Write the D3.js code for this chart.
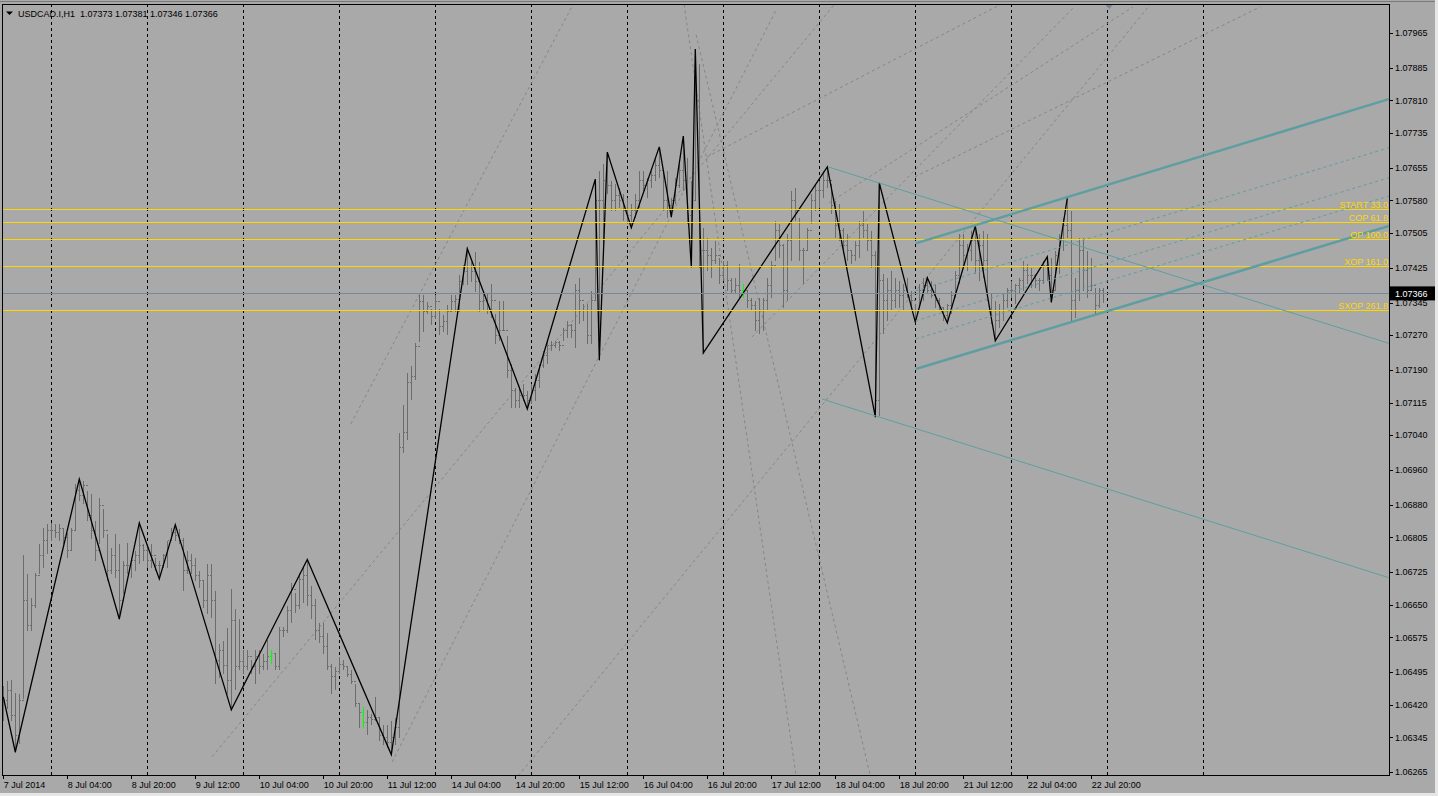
<!DOCTYPE html>
<html>
<head>
<meta charset="utf-8">
<script src="https://cdnjs.cloudflare.com/ajax/libs/d3/7.8.5/d3.min.js"></script>
<style>
  body { margin: 0; background: #a9a9a9; overflow: hidden; }
  text { font-family: "Liberation Sans", Arial, sans-serif; font-size: 9px; }
</style>
</head>
<body>
<svg width="1438" height="796"></svg>
<script>
const symbolName = 'USDCAD.I,H1'

// H1 bars, 7 Jul 2014 12:00 .. 22 Jul 2014 23:00 (open of a bar = close of the previous one)
const highs = [
  1.06466,1.06477,1.06479,1.06449,1.06447,1.06767,1.06723,1.06668,1.06725,1.06792,
  1.06829,1.06838,1.06840,1.06838,1.06838,1.06829,1.06817,1.06829,1.06930,1.06939,
  1.06937,1.06914,1.06907,1.06845,1.06898,1.06873,1.06815,1.06783,1.06815,1.06792,
  1.06753,1.06794,1.06760,1.06776,1.06838,1.06792,1.06792,1.06792,1.06760,1.06753,
  1.06769,1.06799,1.06829,1.06834,1.06827,1.06806,1.06776,1.06769,1.06760,1.06730,
  1.06707,1.06746,1.06746,1.06684,1.06562,1.06569,1.06599,1.06689,1.06642,1.06619,
  1.06548,1.06548,1.06525,1.06548,1.06548,1.06539,1.06572,1.06548,1.06539,1.06602,
  1.06602,1.06649,1.06703,1.06679,1.06726,1.06742,1.06754,1.06696,1.06665,1.06609,
  1.06609,1.06586,1.06516,1.06509,1.06532,1.06525,1.06509,1.06502,1.06469,1.06423,
  1.06416,1.06409,1.06400,1.06439,1.06392,1.06376,1.06376,1.06385,1.06392,1.07046,
  1.07111,1.07185,1.07202,1.07255,1.07365,1.07365,1.07349,1.07333,1.07365,1.07333,
  1.07319,1.07342,1.07365,1.07365,1.07411,1.07434,1.07469,1.07441,1.07464,1.07441,
  1.07374,1.07367,1.07390,1.07321,1.07351,1.07351,1.07270,1.07206,1.07151,1.07151,
  1.07160,1.07144,1.07160,1.07183,1.07206,1.07236,1.07259,1.07259,1.07259,1.07259,
  1.07289,1.07305,1.07298,1.07390,1.07404,1.07344,1.07344,1.07374,1.07629,1.07650,
  1.07666,1.07691,1.07627,1.07620,1.07611,1.07597,1.07588,1.07574,1.07597,1.07650,
  1.07650,1.07634,1.07650,1.07680,1.07703,1.07650,1.07650,1.07588,1.07634,1.07666,
  1.07728,1.07680,1.07627,1.07928,1.07896,1.07519,1.07496,1.07473,1.07489,1.07450,
  1.07443,1.07443,1.07404,1.07404,1.07436,1.07390,1.07374,1.07358,1.07351,1.07358,
  1.07358,1.07404,1.07443,1.07535,1.07528,1.07482,1.07505,1.07604,1.07611,1.07542,
  1.07473,1.07519,1.07597,1.07620,1.07627,1.07650,1.07657,1.07620,1.07581,1.07574,
  1.07519,1.07505,1.07466,1.07489,1.07535,1.07558,1.07528,1.07512,1.07466,1.07620,
  1.07413,1.07404,1.07420,1.07404,1.07397,1.07390,1.07404,1.07374,1.07344,1.07390,
  1.07404,1.07402,1.07397,1.07390,1.07358,1.07335,1.07344,1.07374,1.07420,1.07505,
  1.07505,1.07482,1.07512,1.07521,1.07505,1.07512,1.07505,1.07367,1.07351,1.07344,
  1.07367,1.07381,1.07397,1.07390,1.07404,1.07443,1.07436,1.07427,1.07413,1.07404,
  1.07443,1.07450,1.07450,1.07466,1.07505,1.07542,1.07586,1.07558,1.07404,1.07496,
  1.07496,1.07466,1.07450,1.07381,1.07381,1.07381
]
const lows = [
  1.06385,1.06413,1.06385,1.06311,1.06332,1.06436,1.06592,1.06592,1.06645,1.06723,
  1.06737,1.06769,1.06799,1.06806,1.06799,1.06792,1.06760,1.06776,1.06822,1.06891,
  1.06884,1.06845,1.06804,1.06753,1.06792,1.06806,1.06707,1.06723,1.06714,1.06617,
  1.06677,1.06723,1.06714,1.06730,1.06746,1.06753,1.06737,1.06737,1.06730,1.06709,
  1.06737,1.06737,1.06799,1.06799,1.06792,1.06684,1.06723,1.06723,1.06707,1.06691,
  1.06645,1.06631,1.06622,1.06470,1.06484,1.06493,1.06447,1.06408,1.06455,1.06502,
  1.06493,1.06502,1.06493,1.06469,1.06493,1.06502,1.06502,1.06516,1.06502,1.06502,
  1.06579,1.06586,1.06610,1.06633,1.06642,1.06656,1.06649,1.06619,1.06572,1.06563,
  1.06539,1.06502,1.06446,1.06455,1.06493,1.06502,1.06486,1.06469,1.06416,1.06369,
  1.06369,1.06353,1.06376,1.06385,1.06339,1.06329,1.06322,1.06305,1.06329,1.06346,
  1.07000,1.07030,1.07123,1.07169,1.07256,1.07279,1.07321,1.07296,1.07310,1.07273,
  1.07280,1.07273,1.07326,1.07326,1.07326,1.07388,1.07388,1.07395,1.07372,1.07326,
  1.07328,1.07321,1.07312,1.07252,1.07259,1.07282,1.07174,1.07105,1.07105,1.07105,
  1.07121,1.07100,1.07114,1.07121,1.07151,1.07197,1.07206,1.07236,1.07243,1.07236,
  1.07259,1.07266,1.07266,1.07243,1.07298,1.07305,1.07252,1.07252,1.07351,1.07213,
  1.07482,1.07597,1.07558,1.07558,1.07565,1.07535,1.07528,1.07517,1.07542,1.07565,
  1.07604,1.07588,1.07611,1.07627,1.07634,1.07558,1.07542,1.07542,1.07574,1.07611,
  1.07604,1.07528,1.07427,1.07581,1.07427,1.07229,1.07420,1.07404,1.07436,1.07390,
  1.07397,1.07374,1.07367,1.07367,1.07358,1.07358,1.07335,1.07328,1.07282,1.07275,
  1.07282,1.07328,1.07358,1.07443,1.07450,1.07335,1.07351,1.07443,1.07535,1.07443,
  1.07390,1.07466,1.07528,1.07558,1.07565,1.07588,1.07611,1.07551,1.07496,1.07489,
  1.07459,1.07443,1.07436,1.07443,1.07450,1.07496,1.07466,1.07427,1.07082,1.07087,
  1.07275,1.07305,1.07328,1.07335,1.07335,1.07328,1.07358,1.07335,1.07300,1.07335,
  1.07351,1.07367,1.07358,1.07335,1.07328,1.07305,1.07298,1.07321,1.07358,1.07390,
  1.07427,1.07420,1.07443,1.07413,1.07397,1.07404,1.07351,1.07298,1.07257,1.07289,
  1.07305,1.07335,1.07358,1.07344,1.07367,1.07374,1.07390,1.07381,1.07381,1.07374,
  1.07390,1.07397,1.07346,1.07374,1.07413,1.07466,1.07496,1.07305,1.07312,1.07351,
  1.07374,1.07358,1.07374,1.07321,1.07335,1.07346
]
const closes = [
  1.06431,1.06454,1.06397,1.06351,1.06431,1.06661,1.06604,1.06650,1.06719,1.06765,
  1.06799,1.06822,1.06822,1.06817,1.06827,1.06806,1.06776,1.06822,1.06914,1.06903,
  1.06926,1.06857,1.06822,1.06776,1.06880,1.06822,1.06730,1.06765,1.06730,1.06661,
  1.06742,1.06742,1.06753,1.06765,1.06788,1.06776,1.06753,1.06765,1.06742,1.06742,
  1.06765,1.06799,1.06817,1.06811,1.06799,1.06730,1.06753,1.06742,1.06719,1.06707,
  1.06661,1.06719,1.06661,1.06523,1.06546,1.06512,1.06477,1.06615,1.06509,1.06521,
  1.06509,1.06532,1.06509,1.06532,1.06509,1.06521,1.06532,1.06539,1.06509,1.06591,
  1.06591,1.06638,1.06685,1.06649,1.06708,1.06719,1.06672,1.06649,1.06591,1.06579,
  1.06555,1.06509,1.06485,1.06497,1.06514,1.06509,1.06491,1.06474,1.06423,1.06404,
  1.06381,1.06392,1.06387,1.06392,1.06351,1.06346,1.06335,1.06346,1.06369,1.07012,
  1.07047,1.07162,1.07175,1.07244,1.07349,1.07326,1.07338,1.07315,1.07349,1.07292,
  1.07303,1.07326,1.07349,1.07354,1.07395,1.07418,1.07430,1.07418,1.07395,1.07349,
  1.07351,1.07328,1.07351,1.07271,1.07282,1.07282,1.07190,1.07144,1.07121,1.07133,
  1.07133,1.07121,1.07144,1.07167,1.07202,1.07225,1.07248,1.07248,1.07254,1.07248,
  1.07282,1.07294,1.07282,1.07374,1.07351,1.07328,1.07271,1.07351,1.07581,1.07581,
  1.07627,1.07616,1.07581,1.07593,1.07581,1.07558,1.07547,1.07558,1.07581,1.07627,
  1.07616,1.07627,1.07639,1.07662,1.07650,1.07581,1.07570,1.07581,1.07616,1.07650,
  1.07627,1.07547,1.07581,1.07811,1.07466,1.07466,1.07455,1.07443,1.07455,1.07409,
  1.07432,1.07397,1.07374,1.07386,1.07374,1.07374,1.07351,1.07340,1.07305,1.07328,
  1.07351,1.07386,1.07432,1.07512,1.07478,1.07374,1.07489,1.07581,1.07558,1.07466,
  1.07466,1.07512,1.07581,1.07604,1.07604,1.07627,1.07627,1.07570,1.07524,1.07512,
  1.07478,1.07466,1.07455,1.07478,1.07524,1.07512,1.07489,1.07455,1.07121,1.07397,
  1.07351,1.07374,1.07351,1.07374,1.07363,1.07374,1.07363,1.07351,1.07328,1.07374,
  1.07386,1.07374,1.07363,1.07351,1.07335,1.07317,1.07340,1.07363,1.07409,1.07478,
  1.07455,1.07466,1.07489,1.07443,1.07478,1.07443,1.07367,1.07328,1.07305,1.07328,
  1.07351,1.07374,1.07374,1.07386,1.07397,1.07420,1.07409,1.07409,1.07397,1.07397,
  1.07432,1.07409,1.07374,1.07455,1.07489,1.07524,1.07512,1.07351,1.07374,1.07466,
  1.07420,1.07374,1.07386,1.07340,1.07373,1.07366
]
const firstOpen = 1.06440
const greenBars = [67, 90, 185]

// zigzag pivots (bar index, price)
const zigzagBars = [0,3,19,29,34,39,43,57,76,97,116,131,148,149,151,157,164,167,170,172,173,175,206,218,219,228,231,236,243,248,261,262,266]
const zigzagPrices = [1.06438,1.06311,1.06939,1.06617,1.06838,1.06709,1.06834,1.06408,1.06754,1.06305,1.07469,1.07100,1.07629,1.07213,1.07691,1.07517,1.07703,1.07542,1.07728,1.07427,1.07928,1.07229,1.07657,1.07082,1.07620,1.07300,1.07402,1.07298,1.07521,1.07257,1.07450,1.07346,1.07586]

const levelNames = ['START 33.0', 'COP 61.8', 'OP 100.0', 'XOP 161.0', 'SXOP 261.8']
const levelPrices = [1.07560, 1.07530, 1.07491, 1.07429, 1.07327]

// objects as [bar1, price1, bar2, price2]
const channelMain = [[228.1, 1.07481, 346.4, 1.07813], [228.1, 1.07192, 346.4, 1.07521]]
const channelInner = [[228.1, 1.07372, 346.4, 1.07701], [228.1, 1.07303, 346.4, 1.07632], [228.1, 1.07261, 346.4, 1.07590]]
const trendLines = [[206.2, 1.07657, 346.4, 1.07251], [204.7, 1.07123, 346.4, 1.06712]]
const fanLines = [
  [52.2, 1.06300, 208.7, 1.08041],
  [86.9, 1.07066, 142.4, 1.08030],
  [97.2, 1.06288, 193.2, 1.08018],
  [128.7, 1.06256, 286.7, 1.08030],
  [170.2, 1.08030, 198.2, 1.06256],
  [173.2, 1.07961, 216.7, 1.06258],
  [175.9, 1.07680, 249.2, 1.08030],
  [187.2, 1.07266, 267.7, 1.08025],
  [206.4, 1.07574, 282.4, 1.08025],
  [227.9, 1.07634, 314.2, 1.08025]
]

const priceTicks = ['1.07965','1.07885','1.07810','1.07735','1.07655','1.07580','1.07505','1.07425','1.07345','1.07270','1.07190','1.07115','1.07040','1.06960','1.06880','1.06805','1.06725','1.06650','1.06575','1.06495','1.06420','1.06345','1.06265']
const timeLabels = ['7 Jul 2014','8 Jul 04:00','8 Jul 20:00','9 Jul 12:00','10 Jul 04:00','10 Jul 20:00','11 Jul 12:00','14 Jul 04:00','14 Jul 20:00','15 Jul 12:00','16 Jul 04:00','16 Jul 20:00','17 Jul 12:00','18 Jul 04:00','18 Jul 20:00','21 Jul 12:00','22 Jul 04:00','22 Jul 20:00']
const timeLabelBars = timeLabels.map((d, k) => k * 16)
const daySeparatorBars = [12, 36, 60, 84, 108, 132, 156, 180, 204, 228, 252, 276, 300]

const plot = {left: 2, top: 4, right: 1389, bottom: 775}
const svg = d3.select('svg')

const x = d3.scaleLinear().domain([0, 100]).range([3.3, 403.3])
const y = d3.scaleLinear().domain([1.06265, 1.07965]).range([772, 33])
const px = (i) => Math.round(x(i)) + 0.5
const py = (p) => Math.round(y(p)) + 0.5

svg.append('rect').attr('width', 1438).attr('height', 796).attr('fill', '#a9a9a9')

svg.append('defs').append('clipPath').attr('id', 'clip')
  .append('rect')
  .attr('x', plot.left).attr('y', plot.top)
  .attr('width', plot.right - plot.left).attr('height', plot.bottom - plot.top)

const chart = svg.append('g').attr('clip-path', 'url(#clip)')

// day separators
chart.append('g').selectAll('line')
  .data(daySeparatorBars)
  .join('line')
  .attr('x1', d => px(d)).attr('x2', d => px(d))
  .attr('y1', plot.top).attr('y2', plot.bottom)
  .attr('stroke', '#000')
  .attr('stroke-dasharray', '3,3')

const segment = (g, data, color, width, dash) => {
  g.selectAll(null)
    .data(data)
    .join('line')
    .attr('x1', d => x(d[0])).attr('y1', d => y(d[1]))
    .attr('x2', d => x(d[2])).attr('y2', d => y(d[3]))
    .attr('stroke', color)
    .attr('stroke-width', width)
    .attr('stroke-dasharray', dash)
}

segment(chart.append('g'), fanLines, '#868686', 1, '3,3')

// price bars
const bars = highs.map((h, i) => ({
  i, h, l: lows[i], o: i === 0 ? firstOpen : closes[i - 1], c: closes[i]
}))

chart.append('g').selectAll('path')
  .data(bars)
  .join('path')
  .attr('d', d => {
    const xi = px(d.i)
    return `M${xi},${py(d.h)}V${py(d.l) + 0.5}M${xi - 1.5},${py(d.o)}H${xi}M${xi},${py(d.c)}H${xi + 1.5}`
  })
  .attr('fill', 'none')
  .attr('stroke', d => greenBars.includes(d.i) ? '#00ff00' : '#6c6c6c')
  .attr('stroke-width', 1)
  .attr('shape-rendering', 'crispEdges')

// zigzag
const zigzag = d3.line().x(d => x(d[0])).y(d => y(d[1]))
chart.append('path')
  .datum(zigzagBars.map((b, k) => [b, zigzagPrices[k]]))
  .attr('d', zigzag)
  .attr('fill', 'none')
  .attr('stroke', '#000')
  .attr('stroke-width', 1.3)

// levels
chart.append('g').selectAll('line')
  .data(levelPrices)
  .join('line')
  .attr('x1', plot.left).attr('x2', plot.right)
  .attr('y1', d => py(d)).attr('y2', d => py(d))
  .attr('stroke', '#ffd700')

segment(chart.append('g'), trendLines, '#5f9ea0', 1, null)
segment(chart.append('g'), channelInner, '#5f9ea0', 1, '3,3')
segment(chart.append('g'), channelMain, '#5f9ea0', 2.5, null)

chart.append('g').selectAll('text')
  .data(levelNames)
  .join('text')
  .attr('x', plot.right - 1)
  .attr('y', (d, k) => y(levelPrices[k]) - 1.5)
  .attr('text-anchor', 'end')
  .attr('fill', '#ffd700')
  .text(d => d)

// bid line
const lastClose = closes[closes.length - 1]
chart.append('line')
  .attr('x1', plot.left).attr('x2', plot.right)
  .attr('y1', py(lastClose)).attr('y2', py(lastClose))
  .attr('stroke', '#778899')

// chart shift marker
svg.append('path')
  .attr('d', `M${x(276.5) - 3.5},${plot.top + 1}h7l-3.5,4z`)
  .attr('fill', '#778899')

// frame
svg.append('rect')
  .attr('x', plot.left + 0.5).attr('y', plot.top + 0.5)
  .attr('width', plot.right - plot.left).attr('height', plot.bottom - plot.top)
  .attr('fill', 'none').attr('stroke', '#000')
svg.append('line').attr('x1', 0).attr('x2', 1438).attr('y1', 1.5).attr('y2', 1.5).attr('stroke', '#7a7a7a')
svg.append('line').attr('x1', 1436.5).attr('x2', 1436.5).attr('y1', 0).attr('y2', 796).attr('stroke', '#e6e6e6').attr('stroke-width', 3)
svg.append('line').attr('x1', 0).attr('x2', 1438).attr('y1', 794.5).attr('y2', 794.5).attr('stroke', '#e6e6e6').attr('stroke-width', 3)

// price axis
const yAxis = svg.append('g')
yAxis.selectAll('line')
  .data(priceTicks)
  .join('line')
  .attr('x1', plot.right).attr('x2', plot.right + 4)
  .attr('y1', d => py(+d)).attr('y2', d => py(+d))
  .attr('stroke', '#000')
yAxis.selectAll('text')
  .data(priceTicks)
  .join('text')
  .attr('x', plot.right + 6)
  .attr('y', d => y(+d) + 3.3)
  .attr('fill', '#000')
  .text(d => d)

yAxis.append('rect')
  .attr('x', plot.right + 1).attr('y', y(lastClose) - 7)
  .attr('width', 45).attr('height', 14)
  .attr('fill', '#000')
yAxis.append('text')
  .attr('x', plot.right + 6).attr('y', y(lastClose) + 3.3)
  .attr('fill', '#fff')
  .text(lastClose.toFixed(5))

// time axis
const xAxis = svg.append('g')
xAxis.selectAll('line')
  .data(timeLabelBars)
  .join('line')
  .attr('x1', d => px(d)).attr('x2', d => px(d))
  .attr('y1', plot.bottom).attr('y2', plot.bottom + 4)
  .attr('stroke', '#000')
xAxis.selectAll('text')
  .data(timeLabels)
  .join('text')
  .attr('x', (d, k) => Math.max(plot.left + 1, x(timeLabelBars[k]) + 0.5))
  .attr('y', 788)
  .attr('fill', '#000')
  .text(d => d)

// header
const last = bars[bars.length - 1]
svg.append('path').attr('d', 'M6,11.5h7l-3.5,3.5z').attr('fill', '#000')
svg.append('text')
  .attr('x', 18).attr('y', 16.5)
  .attr('fill', '#000')
  .attr('xml:space', 'preserve')
  .text(`${symbolName}  ${[last.o, last.h, last.l, last.c].map(v => v.toFixed(5)).join(' ')}`)
</script>
</body>
</html>
